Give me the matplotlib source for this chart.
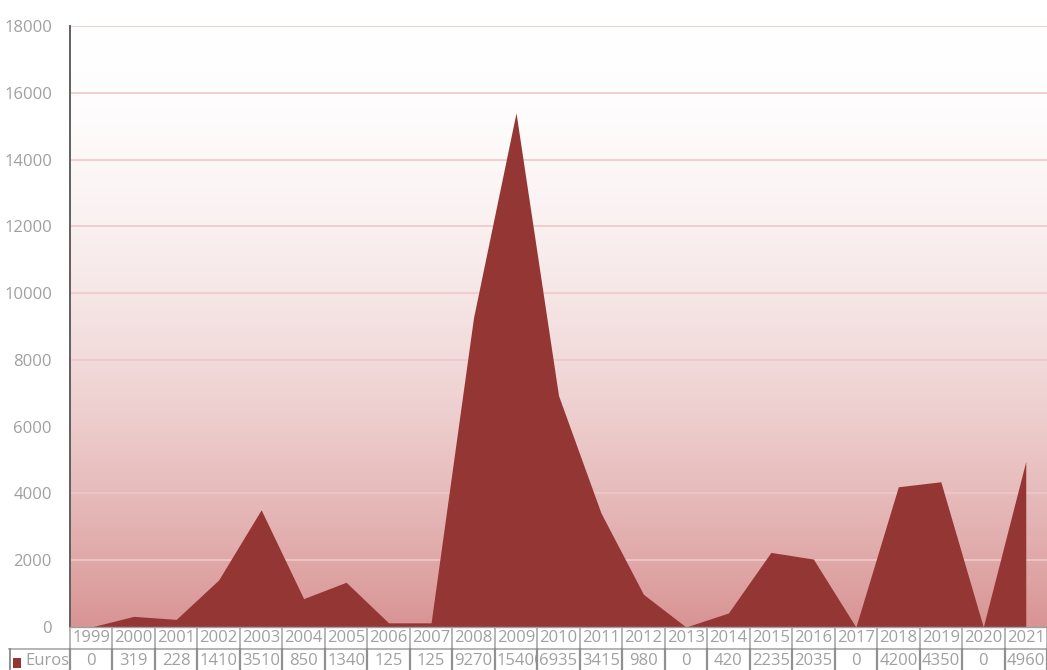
import matplotlib
matplotlib.use("Agg")
import matplotlib.pyplot as plt
import matplotlib.transforms as mtransforms
from matplotlib.lines import Line2D
from matplotlib.patches import Rectangle
import numpy as np

years = ["1999", "2000", "2001", "2002", "2003", "2004", "2005", "2006", "2007", "2008",
         "2009", "2010", "2011", "2012", "2013", "2014", "2015", "2016", "2017", "2018",
         "2019", "2020", "2021"]
euros = [0, 319, 228, 1410, 3510, 850, 1340, 125, 125, 9270,
         15400, 6935, 3415, 980, 0, 420, 2235, 2035, 0, 4200,
         4350, 0, 4960]
series_name = "Euros"
y_ticks = [0, 2000, 4000, 6000, 8000, 10000, 12000, 14000, 16000, 18000]

W, H = 1047, 670
fig = plt.figure(figsize=(W / 100, H / 100), dpi=100)
ax = fig.add_axes([70 / W, 43 / H, (W - 70) / W, 601 / H])

font = ["Open Sans", "DejaVu Sans"]
txt_color = "#a0a0a0"
area_color = "#943634"
fs = 12

x = np.arange(len(years))
ax.set_xlim(-0.5, len(years) - 0.5)

# gradient background (white at top -> pink at bottom)
grad = np.linspace(0, 1, 256).reshape(-1, 1)
top = np.array([1.0, 1.0, 1.0])
bot = np.array([217, 148, 148]) / 255.0
g = grad ** 1.8
img = top[None, None, :] * (1 - g[:, :, None]) + bot[None, None, :] * g[:, :, None]
ax.imshow(img, extent=[-0.5, len(years) - 0.5, 0, 18000], origin="upper", aspect="auto",
          zorder=0, interpolation="bilinear")
ax.set_ylim(0, 18000)

for yt in y_ticks[1:]:
    ax.axhline(yt, color="#f0c8c8", lw=1.2, zorder=1)

ax.fill_between(x, 0, euros, color=area_color, lw=0, zorder=2)

ax.set_yticks(y_ticks)
ax.set_yticklabels([str(v) for v in y_ticks], fontsize=fs, color=txt_color, family=font)
ax.tick_params(axis="y", length=0, pad=13)
ax.set_xticks([])
for s in ["top", "right"]:
    ax.spines[s].set_visible(False)
ax.spines["left"].set_color("#606060")
ax.spines["left"].set_linewidth(1.4)
ax.spines["bottom"].set_color("#a0a0a0")
ax.spines["bottom"].set_linewidth(1)

# data table below axes
blend = mtransforms.blended_transform_factory(ax.transData, fig.transFigure)
def fy(py):
    return 1 - py / H

line_c = "#a8a8a8"
n = len(years)
edges = np.arange(n + 1) - 0.5
fig.add_artist(Line2D([-0.5, n - 0.5], [fy(649), fy(649)], transform=blend, color=line_c, lw=1.2))
fig.add_artist(Line2D([9 / W, 70 / W], [fy(649), fy(649)], transform=fig.transFigure, color=line_c, lw=1.2))
for e in edges:
    fig.add_artist(Line2D([e, e], [fy(628), fy(649)], transform=blend, color=line_c, lw=1.2))
    fig.add_artist(Line2D([e, e], [fy(649), fy(672)], transform=blend, color="#909090", lw=1.6))
fig.add_artist(Line2D([9.5 / W, 9.5 / W], [fy(649), fy(672)], transform=fig.transFigure, color="#909090", lw=1.4))

for i, (yr, v) in enumerate(zip(years, euros)):
    fig.text(i, fy(638.5), yr, transform=blend, ha="center", va="center",
             fontsize=fs, color=txt_color, family=font)
    s = str(v)
    if len(s) > 4:
        t = fig.text(i - 0.46, fy(661), s, transform=blend, ha="left", va="center",
                     fontsize=fs, color=txt_color, family=font)
        clip = Rectangle((i - 0.5, fy(672)), 0.97, fy(649) - fy(672), transform=blend,
                         fill=False, lw=0)
        t.set_clip_path(clip)
        t.set_clip_on(True)
    else:
        fig.text(i, fy(661), s, transform=blend, ha="center", va="center",
                 fontsize=fs, color=txt_color, family=font)

fig.add_artist(Rectangle((13 / W, fy(668)), 8 / W, 10 / H, transform=fig.transFigure,
                         color=area_color, lw=0))
fig.text(25 / W, fy(661), series_name, ha="left", va="center", fontsize=fs,
         color=txt_color, family=font)

fig.savefig("out.png", dpi=100)
